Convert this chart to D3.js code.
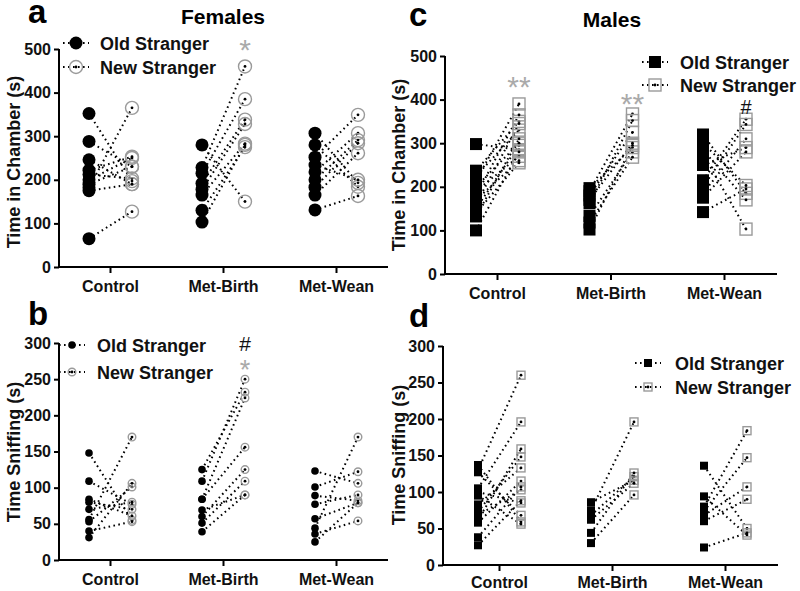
<!DOCTYPE html>
<html>
<head>
<meta charset="utf-8">
<script src="https://cdn.jsdelivr.net/npm/d3@7"></script>
<style>
  body { margin: 0; background: #fff; }
  text { font-family: Arial, "Liberation Sans", sans-serif; }
</style>
</head>
<body>
<div class="usable"></div>
<script>
// groups on the x axis
const groups = ["Control", "Met-Birth", "Met-Wean"]

// a: females, time in chamber (old -> new, one pair per animal)
const aOld = {
    "Control":   [352, 288, 246, 222, 212, 200, 190, 182, 175, 65],
    "Met-Birth": [280, 228, 215, 192, 178, 165, 130, 103],
    "Met-Wean":  [307, 280, 252, 234, 218, 200, 183, 165, 131]
}
const aNew = {
    "Control":   [197, 230, 190, 253, 203, 250, 230, 365, 190, 127],
    "Met-Birth": [150, 460, 385, 338, 328, 283, 275, 280],
    "Met-Wean":  [193, 184, 349, 200, 307, 291, 284, 261, 163]
}

// b: females, time sniffing
const bOld = {
    "Control":   [148, 109, 84, 80, 70, 56, 53, 40, 31],
    "Met-Birth": [125, 109, 84, 84, 69, 60, 51, 39],
    "Met-Wean":  [123, 101, 89, 77, 57, 44, 36, 25]
}
const bNew = {
    "Control":   [55, 77, 61, 70, 80, 170, 101, 53, 106],
    "Met-Birth": [232, 250, 224, 156, 90, 125, 109, 90],
    "Met-Wean":  [106, 122, 82, 90, 79, 170, 54, 79]
}

// c: males, time in chamber
const cOld = {
    "Control":   [298, 237, 225, 215, 200, 190, 180, 170, 160, 150, 140, 132, 100],
    "Met-Birth": [197, 190, 180, 170, 162, 133, 118, 102],
    "Met-Wean":  [320, 300, 285, 275, 250, 215, 200, 185, 175, 142]
}
const cNew = {
    "Control":   [285, 350, 330, 390, 300, 270, 365, 260, 345, 295, 255, 310, 280],
    "Met-Birth": [290, 367, 325, 300, 352, 280, 268, 295],
    "Met-Wean":  [185, 203, 170, 103, 290, 355, 343, 310, 280, 195]
}

// d: males, time sniffing
const dOld = {
    "Control":   [137, 130, 127, 105, 100, 95, 83, 73, 68, 62, 58, 38, 27],
    "Met-Birth": [86, 75, 68, 62, 44, 30],
    "Met-Wean":  [136, 94, 80, 74, 68, 60, 24]
}
const dNew = {
    "Control":   [59, 260, 68, 196, 85, 56, 133, 148, 103, 159, 115, 107, 88],
    "Met-Birth": [116, 196, 121, 112, 126, 96],
    "Met-Wean":  [50, 41, 184, 147, 107, 90, 44]
}

const chamberTicks = [0, 100, 200, 300, 400, 500]
const sniffTicks = [0, 50, 100, 150, 200, 250, 300]
const legendLabels = ["Old Stranger", "New Stranger"]

const GREY = "#9a9a9a"

let svg = d3.select(".usable").append("svg")
    .attr("width", 800)
    .attr("height", 591)

function panel(p) {
    let g = svg.append("g")
    let y = d3.scaleLinear().domain([0, p.max]).range([p.y0, p.yTop])
    let x = d3.scalePoint().domain(groups).range([p.t0, p.t1])
    let side = d3.scalePoint().domain(["old", "new"]).range([-21, 22])

    // y axis
    let yAx = g.append("g").attr("transform", "translate(" + p.x0 + ",0)")
        .call(d3.axisLeft(y).tickValues(p.ticks).tickSize(5).tickPadding(3))
    yAx.select(".domain").attr("stroke-width", 2).attr("d", "M0," + y(0) + "V" + y(p.max))
    yAx.selectAll(".tick line").attr("stroke-width", 2)
    yAx.selectAll("text").attr("font-size", 16).attr("font-weight", "bold")
        .attr("font-family", "Arial, 'Liberation Sans', sans-serif").attr("fill", "#111")

    // x axis
    let xAx = g.append("g").attr("transform", "translate(0," + p.y0 + ")")
        .call(d3.axisBottom(x).tickSize(6).tickPadding(p.xpad))
    xAx.select(".domain").attr("stroke-width", 2).attr("d", "M" + p.x0 + ",0H" + p.x1)
    xAx.selectAll(".tick line").attr("stroke-width", 2)
    xAx.selectAll("text").attr("font-size", 16).attr("font-weight", "bold")
        .attr("font-family", "Arial, 'Liberation Sans', sans-serif").attr("fill", "#111")

    // pair lines
    groups.forEach(function (grp) {
        let olds = p.old[grp]
        let news = p.new[grp]
        olds.forEach(function (v, i) {
            g.append("line")
                .attr("x1", x(grp) + side("old")).attr("y1", y(v))
                .attr("x2", x(grp) + side("new")).attr("y2", y(news[i]))
                .attr("stroke", "#000").attr("stroke-width", 2)
                .attr("stroke-dasharray", "1.6,3.4")
        })
    })

    // markers
    groups.forEach(function (grp) {
        p.old[grp].forEach(function (v) {
            marker(g, p.shape, p.size, true, x(grp) + side("old"), y(v))
        })
        p.new[grp].forEach(function (v) {
            marker(g, p.shape, p.size, false, x(grp) + side("new"), y(v))
        })
    })

    // legend
    legendLabels.forEach(function (lab, i) {
        let ly = p.leg.y + i * p.leg.dy
        g.append("line").attr("x1", p.leg.mx - 13).attr("x2", p.leg.mx + 13)
            .attr("y1", ly).attr("y2", ly)
            .attr("stroke", "#000").attr("stroke-width", 2).attr("stroke-dasharray", "1.6,3.4")
        marker(g, p.shape, p.size, i === 0, p.leg.mx, ly)
        g.append("text").attr("x", p.leg.tx).attr("y", ly + 6.5)
            .attr("font-size", 18).attr("font-weight", "bold").attr("fill", "#111")
            .text(lab)
    })

    // panel letter, title, y label
    g.append("text").attr("x", p.letter[0]).attr("y", p.letter[1])
        .attr("font-size", 33).attr("font-weight", "bold").text(p.name)
    if (p.title) {
        g.append("text").attr("x", p.title[0]).attr("y", p.title[1])
            .attr("text-anchor", "middle").attr("font-size", 21).attr("font-weight", "bold")
            .text(p.title[2])
    }
    g.append("text")
        .attr("transform", "translate(" + p.ylab[0] + "," + p.ylab[1] + ") rotate(-90)")
        .attr("text-anchor", "middle").attr("font-size", 18).attr("font-weight", "bold")
        .attr("fill", "#111").text(p.ylab[2])

    // significance marks
    p.marks.forEach(function (m) {
        g.append("text").attr("x", x(m.grp) + side("new")).attr("y", y(m.v))
            .attr("text-anchor", "middle")
            .attr("font-size", m.size)
            .attr("fill", m.s === "#" ? "#111" : "#aaa")
            .text(m.s)
    })
}

function marker(g, shape, size, filled, cx, cy) {
    if (shape === "circle") {
        g.append("circle").attr("cx", cx).attr("cy", cy).attr("r", size)
            .attr("fill", filled ? "#000" : "none")
            .attr("stroke", filled ? "none" : GREY).attr("stroke-width", 1.4)
    } else {
        g.append("rect").attr("x", cx - size).attr("y", cy - size)
            .attr("width", size * 2).attr("height", size * 2)
            .attr("fill", filled ? "#000" : "none")
            .attr("stroke", filled ? "none" : GREY).attr("stroke-width", 1.4)
    }
    if (!filled) {
        g.append("circle").attr("cx", cx).attr("cy", cy).attr("r", 1.4).attr("fill", "#000")
    }
}

panel({
    name: "a", old: aOld, new: aNew, shape: "circle", size: 6.5,
    max: 500, ticks: chamberTicks, y0: 267, yTop: 49,
    x0: 59, x1: 388, t0: 110, t1: 336, xpad: 8,
    leg: { mx: 76, tx: 100, y: 43, dy: 24 },
    letter: [28, 23], title: [223, 24, "Females"],
    ylab: [20, 162, "Time in Chamber (s)"],
    marks: [{ grp: "Met-Birth", v: 474, s: "*", size: 30 }]
})

panel({
    name: "b", old: bOld, new: bNew, shape: "circle", size: 3.8,
    max: 300, ticks: sniffTicks, y0: 560, yTop: 343,
    x0: 59, x1: 388, t0: 110, t1: 336, xpad: 8,
    leg: { mx: 72, tx: 97, y: 345, dy: 27 },
    letter: [28, 325], title: null,
    ylab: [20, 452, "Time Sniffing (s)"],
    marks: [{ grp: "Met-Birth", v: 289, s: "#", size: 21 }, { grp: "Met-Birth", v: 250, s: "*", size: 27 }]
})

panel({
    name: "c", old: cOld, new: cNew, shape: "rect", size: 6,
    max: 500, ticks: chamberTicks, y0: 274, yTop: 56,
    x0: 445, x1: 777, t0: 497, t1: 724, xpad: 8,
    leg: { mx: 655, tx: 680, y: 62, dy: 23 },
    letter: [409, 26], title: [612, 27, "Males"],
    ylab: [405, 165, "Time in Chamber (s)"],
    marks: [{ grp: "Control", v: 406, s: "**", size: 30 }, { grp: "Met-Birth", v: 367, s: "**", size: 30 },
            { grp: "Met-Wean", v: 368, s: "#", size: 20 }]
})

panel({
    name: "d", old: dOld, new: dNew, shape: "rect", size: 4,
    max: 300, ticks: sniffTicks, y0: 565, yTop: 346,
    x0: 443, x1: 778, t0: 499, t1: 725, xpad: 6,
    leg: { mx: 648, tx: 675, y: 363, dy: 24 },
    letter: [409, 327], title: null,
    ylab: [405, 455, "Time Sniffing (s)"],
    marks: []
})
</script>
</body>
</html>
